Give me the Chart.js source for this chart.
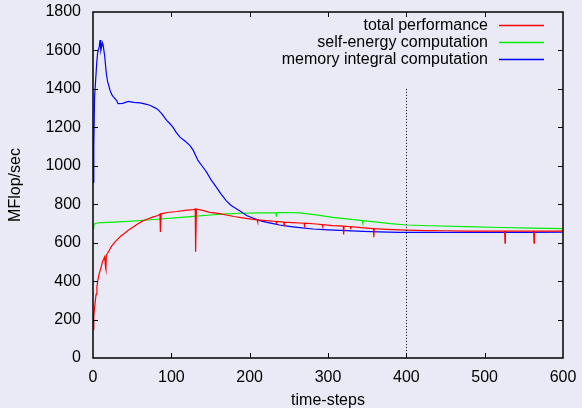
<!DOCTYPE html>
<html>
<head>
<meta charset="utf-8">
<script src="https://cdn.jsdelivr.net/npm/chart.js@4.4.1/dist/chart.umd.min.js"></script>
<style>
  html, body { margin: 0; padding: 0; background: #eaeaf6; }
  #wrap { width: 582px; height: 408px; }
</style>
</head>
<body>
<div id="wrap"><canvas id="perfChart" width="582" height="408"></canvas></div>
<script>
// [time-step, MFlop/sec]
const totalPerf = [
  [0, 150], [1, 215], [2, 262], [3, 300], [4, 332], [5, 370], [6, 402], [8, 440],
  [10, 466], [12, 500], [14, 518], [15, 527], [16, 470], [16.5, 460], [17, 535],
  [18, 541], [21, 562], [24, 583], [27.6, 602], [32, 620], [36, 636], [40, 648],
  [44.6, 663], [50, 678], [57, 697], [63, 712], [70, 723], [76, 733], [83, 741],
  [85.5, 748], [86, 655], [87, 750], [95, 757], [107, 762], [118, 768], [128, 772],
  [130.5, 775], [131, 553], [132, 775], [140, 768], [149, 758], [160, 752],
  [170, 744], [180, 736], [191, 729], [202, 722], [209.5, 719], [210, 708],
  [210.5, 719], [225, 713], [233.5, 710], [234, 698], [234.5, 710], [243.5, 707],
  [244, 689], [244.5, 707], [255, 704], [269.5, 701], [270, 680], [270.5, 701],
  [285, 697], [292.5, 694], [293, 684], [293.5, 694], [306, 689], [319.5, 686],
  [320, 642], [320.5, 686], [328.5, 683], [329, 670], [329.5, 683], [349, 676],
  [358, 673], [358.5, 628], [359, 673], [375, 669], [400, 665], [425, 663],
  [450, 662], [476, 660], [500, 660], [525.5, 660], [526, 597], [526.5, 660],
  [545, 660], [562.5, 660], [563, 597], [563.5, 660], [580, 660], [600, 660]
];

const selfEnergy = [
  [0, 675], [1, 690], [2, 697], [4, 701], [10, 704], [20, 706], [45, 711],
  [70, 718], [85, 723], [105, 729], [128, 737], [150, 744], [170, 750],
  [190, 753], [213, 755], [233.5, 756], [234, 738], [234.5, 756], [250, 757],
  [264, 755], [285, 745], [306, 732], [330, 721], [343.5, 715], [344, 703],
  [344.5, 715], [360, 708], [380, 699], [400, 692], [430, 688], [476, 683],
  [520, 679], [560, 676], [600, 673]
];

const memIntegral = [
  [0, 915], [1, 1100], [2, 1358], [3, 1420], [4.7, 1532], [6, 1590], [8, 1620],
  [9, 1654], [10, 1600], [11, 1619], [12, 1640], [13, 1628], [15, 1567],
  [17, 1480], [18.7, 1436], [20, 1420], [21.7, 1393], [24, 1370], [26, 1358],
  [30, 1341], [32, 1323], [38, 1325], [45, 1335], [52, 1330], [60, 1327],
  [66, 1322], [72.6, 1315], [80, 1300], [83, 1292], [88, 1270], [94, 1236],
  [98, 1220], [102, 1201], [106, 1175], [111, 1149], [117, 1130], [123.6, 1106],
  [128, 1080], [134, 1028], [140, 995], [145, 967], [151, 925], [157.6, 888],
  [164, 850], [170, 819], [176, 795], [183, 776], [190, 758], [196, 741],
  [205, 727], [213, 715], [222, 706], [230, 699], [238, 692], [250, 685],
  [264, 678], [281, 671], [300, 667], [323, 663], [345, 659], [365, 656],
  [391, 654], [450, 654], [500, 654], [550, 654], [600, 655]
];

const seriesNames = ['total performance', 'self-energy computation', 'memory integral computation'];
const seriesColors = ['#ff0000', '#00ee00', '#0000ff'];

const xTicks = [0, 100, 200, 300, 400, 500, 600];
const yTicks = [0, 200, 400, 600, 800, 1000, 1200, 1400, 1600, 1800];

// dotted marker line at x = 400, from 0 up to 1400
const markerX = 400;
const markerTop = 1400;

const FONT = 'Liberation Sans, Arial, Helvetica, sans-serif';

function toPoints(pairs) {
  return pairs.map(([x, y]) => ({ x, y }));
}

// gnuplot-like border with inward ticks on all four sides
const framePlugin = {
  id: 'frame',
  afterDatasetsDraw(chart) {
    const { ctx, chartArea: a, scales } = chart;
    const len = 5;
    ctx.save();
    ctx.strokeStyle = '#000';

    // marker line
    ctx.lineWidth = 1;
    ctx.setLineDash([1, 2]);
    const mx = Math.round(scales.x.getPixelForValue(markerX)) + 0.5;
    ctx.beginPath();
    ctx.moveTo(mx, scales.y.getPixelForValue(markerTop));
    ctx.lineTo(mx, a.bottom);
    ctx.stroke();
    ctx.setLineDash([]);

    ctx.lineWidth = 1;
    ctx.beginPath();
    for (const v of xTicks.slice(1, -1)) {
      const px = Math.round(scales.x.getPixelForValue(v)) + 0.5;
      ctx.moveTo(px, a.bottom); ctx.lineTo(px, a.bottom - len);
      ctx.moveTo(px, a.top); ctx.lineTo(px, a.top + len);
    }
    for (const v of yTicks.slice(1, -1)) {
      const py = Math.round(scales.y.getPixelForValue(v)) + 0.5;
      ctx.moveTo(a.left, py); ctx.lineTo(a.left + len, py);
      ctx.moveTo(a.right, py); ctx.lineTo(a.right - len, py);
    }
    ctx.stroke();

    ctx.lineWidth = 1.5;
    ctx.strokeRect(a.left, a.top, a.right - a.left, a.bottom - a.top);
    ctx.restore();
  }
};

// key in the upper right: right-aligned labels with a line sample after each
const keyPlugin = {
  id: 'key',
  afterDraw(chart) {
    const { ctx } = chart;
    const textRight = 488;
    const lineStart = 499;
    const lineEnd = 544;
    const rows = [25, 42, 59];
    ctx.save();
    ctx.font = '16px ' + FONT;
    ctx.textAlign = 'right';
    ctx.textBaseline = 'middle';
    seriesNames.forEach((name, i) => {
      ctx.fillStyle = '#000';
      ctx.fillText(name, textRight, rows[i] + 1);
      ctx.strokeStyle = seriesColors[i];
      ctx.lineWidth = 1.5;
      ctx.beginPath();
      ctx.moveTo(lineStart, rows[i] + 0.5);
      ctx.lineTo(lineEnd, rows[i] + 0.5);
      ctx.stroke();
    });
    ctx.restore();
  }
};

const pageBg = {
  id: 'pageBg',
  beforeDraw(chart) {
    const { ctx, width, height } = chart;
    ctx.save();
    ctx.fillStyle = '#eaeaf6';
    ctx.fillRect(0, 0, width, height);
    ctx.restore();
  }
};

const allSeries = [totalPerf, selfEnergy, memIntegral];

new Chart(document.getElementById('perfChart'), {
  type: 'line',
  data: {
    datasets: allSeries.map((s, i) => ({
      label: seriesNames[i],
      data: toPoints(s),
      borderColor: seriesColors[i],
      borderWidth: 1.2,
      pointRadius: 0,
      tension: 0,
      fill: false,
      order: i === 0 ? 0 : 3 - i
    }))
  },
  options: {
    responsive: false,
    animation: false,
    layout: { padding: { top: 12, right: 19, left: 0, bottom: 0 } },
    plugins: {
      legend: { display: false },
      tooltip: { enabled: false }
    },
    scales: {
      x: {
        type: 'linear',
        min: 0,
        max: 600,
        afterFit(scale) {
          scale.height = 50;
          scale.paddingLeft = 0;
          scale.paddingRight = 0;
        },
        afterBuildTicks(scale) { scale.ticks = xTicks.map(v => ({ value: v })); },
        grid: { display: false, drawTicks: false },
        border: { display: false },
        ticks: { color: '#000', font: { family: FONT, size: 16 }, padding: 10, maxRotation: 0, callback: v => String(v) },
        title: { display: true, text: 'time-steps', color: '#000', font: { family: FONT, size: 16 }, padding: { top: 0, bottom: -2 } }
      },
      y: {
        min: 0,
        max: 1800,
        afterFit(scale) {
          scale.width = 93;
          scale.paddingTop = 0;
          scale.paddingBottom = 0;
        },
        afterBuildTicks(scale) { scale.ticks = yTicks.map(v => ({ value: v })); },
        grid: { display: false, drawTicks: false },
        border: { display: false },
        ticks: { color: '#000', font: { family: FONT, size: 16 }, padding: 12, callback: v => String(v) },
        title: { display: true, text: 'MFlop/sec', color: '#000', font: { family: FONT, size: 16 }, padding: { top: 6, bottom: 0 } }
      }
    }
  },
  plugins: [pageBg, framePlugin, keyPlugin]
});
</script>
</body>
</html>
